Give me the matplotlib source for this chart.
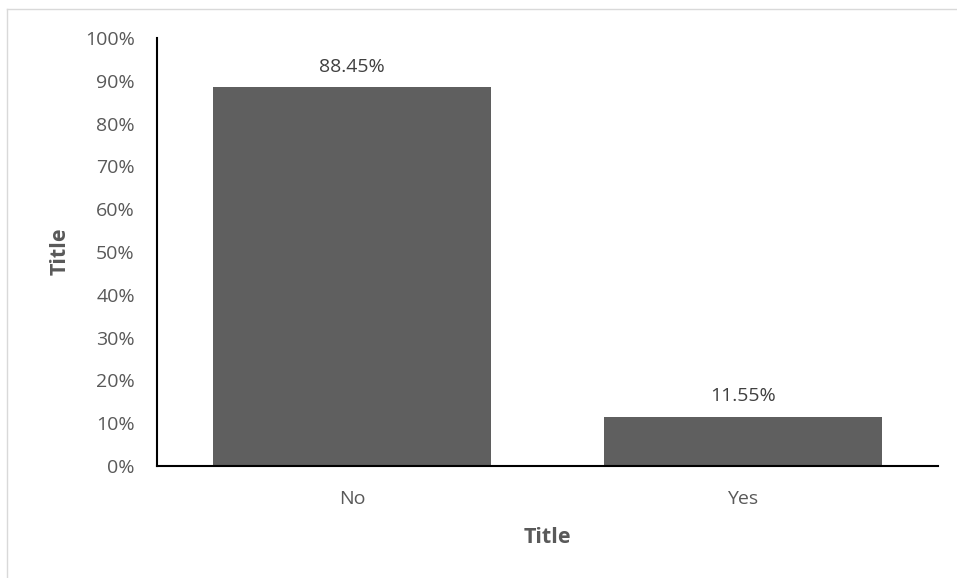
import matplotlib.pyplot as plt
from matplotlib.lines import Line2D
from matplotlib.ticker import PercentFormatter

# data
categories = ['No', 'Yes']
values = [88.45, 11.55]
value_labels = ['88.45%', '11.55%']

plt.rcParams['font.family'] = ['Open Sans', 'DejaVu Sans']

fig = plt.figure(figsize=(9.57, 5.78), dpi=100)
W, H = 957, 578
ax = fig.add_axes([157 / W, 1 - 466 / H, (938 - 157) / W, (466 - 38) / H])

x = range(len(categories))
bars = ax.bar(x, values, width=0.712, color='#5f5f5f', zorder=2)
for b, lab in zip(bars, value_labels):
    ax.text(b.get_x() + b.get_width() / 2, b.get_height() + 4.8, lab,
            ha='center', va='center', fontsize=14, color='#404040')

ax.set_xlim(-0.5, 1.5)
ax.set_ylim(0, 100)
ax.set_yticks(range(0, 101, 10))
ax.yaxis.set_major_formatter(PercentFormatter(decimals=0))
ax.set_xticks(list(x))
ax.set_xticklabels(categories)
ax.tick_params(axis='both', length=0, labelsize=14, labelcolor='#595959')
ax.tick_params(axis='y', pad=16)
ax.tick_params(axis='x', pad=17.5)
for s in ['top', 'right']:
    ax.spines[s].set_visible(False)
ax.spines['left'].set_linewidth(1.5)
ax.spines['bottom'].set_linewidth(1.5)

ax.set_xlabel('Title', fontsize=15.5, fontweight='bold', color='#595959')
ax.set_ylabel('Title', fontsize=15.5, fontweight='bold', color='#595959')
ax.xaxis.set_label_coords(0.5, -0.168)
ax.xaxis.label.set_va('center')
ax.yaxis.set_label_coords(-0.124, 0.502)
ax.yaxis.label.set_va('center')

# light frame (top and left edges visible in the screenshot)
fig.add_artist(Line2D([7 / W, 1], [1 - 9 / H, 1 - 9 / H], color='#d9d9d9', lw=1, transform=fig.transFigure))
fig.add_artist(Line2D([7 / W, 7 / W], [0, 1 - 9 / H], color='#d9d9d9', lw=1, transform=fig.transFigure))

fig.savefig('out.png', dpi=100)
